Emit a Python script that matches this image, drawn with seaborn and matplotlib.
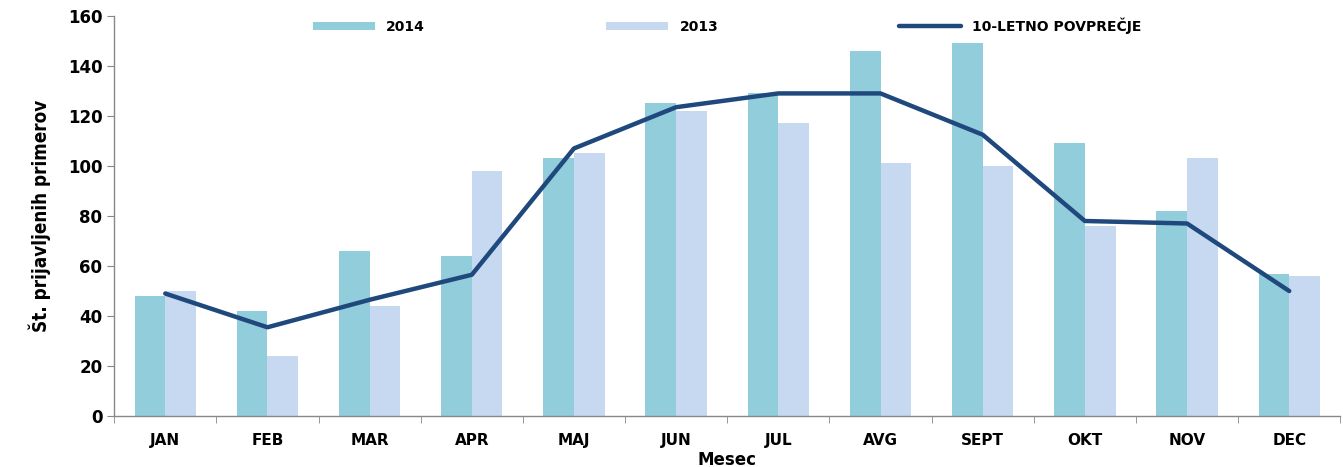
import numpy as np
import pandas as pd
import matplotlib
matplotlib.use("Agg")
import matplotlib.pyplot as plt
import seaborn as sns

# ---------- DATA ----------
months = ["JAN", "FEB", "MAR", "APR", "MAJ", "JUN", "JUL", "AVG", "SEPT", "OKT", "NOV", "DEC"]
cases_2014 = [48, 42, 66, 64, 103, 125, 129, 146, 149, 109, 82, 57]
cases_2013 = [50, 24, 44, 98, 105, 122, 117, 101, 100, 76, 103, 56]
avg_10y = [49, 35.5, 46.5, 56.5, 107, 123.5, 129, 129, 112.5, 78, 77, 50]

series_names = ["2014", "2013"]
line_name = "10-LETNO POVPREČJE"

# ---------- STYLE ----------
sns.set_style("white")
plt.rcParams["font.family"] = ["DejaVu Sans"]
plt.rcParams["text.color"] = "black"
plt.rcParams["axes.labelcolor"] = "black"
plt.rcParams["xtick.color"] = "black"
plt.rcParams["ytick.color"] = "black"

c2014 = "#92CDDC"
c2013 = "#C6D9F1"
cline = "#1F497D"

df = pd.DataFrame({
    "Mesec": months * 2,
    "Leto": [series_names[0]] * len(months) + [series_names[1]] * len(months),
    "Primeri": cases_2014 + cases_2013,
})

fig = plt.figure(figsize=(13.43, 4.67), dpi=100)
ax = fig.add_axes([0.085, 0.109, 0.913, 0.857])

sns.barplot(data=df, x="Mesec", y="Primeri", hue="Leto", order=months,
            hue_order=series_names, palette=[c2014, c2013], width=0.6,
            saturation=1, linewidth=0, ax=ax, legend=True)
sns.lineplot(x=np.arange(len(months)), y=avg_10y, color=cline, linewidth=3.2,
             ax=ax, label=line_name)

ax.set_ylim(0, 160)
ax.set_xlim(-0.5, len(months) - 0.5)
ax.set_yticks(range(0, 161, 20))
ax.tick_params(axis="y", labelsize=12, length=5, color="#888888", direction="out", left=True)
for lbl in ax.get_yticklabels():
    lbl.set_fontweight("bold")

# x ticks between categories
ax.set_xticks(np.arange(len(months)))
ax.set_xticklabels(months, fontsize=11, fontweight="bold")
ax.tick_params(axis="x", which="major", length=0, pad=12)
ax.set_xticks(np.arange(-0.5, len(months)), minor=True)
ax.tick_params(axis="x", which="minor", length=5, color="#888888", direction="out", bottom=True)

for s in ["top", "right"]:
    ax.spines[s].set_visible(False)
for s in ["left", "bottom"]:
    ax.spines[s].set_color("#888888")
    ax.spines[s].set_linewidth(1)

ax.set_xlabel("Mesec", fontsize=12, fontweight="bold", labelpad=2)
ax.set_ylabel("Št. prijavljenih primerov", fontsize=13.5, fontweight="bold",
              fontstretch="condensed", labelpad=12)

handles, labels = ax.get_legend_handles_labels()
leg = ax.legend(handles, labels, loc="upper center", bbox_to_anchor=(0.5, 1.028),
                ncol=3, frameon=False, handlelength=4.5, handleheight=0.5,
                columnspacing=13, prop={"weight": "bold", "size": 10})

fig.savefig("out.png", dpi=100)
